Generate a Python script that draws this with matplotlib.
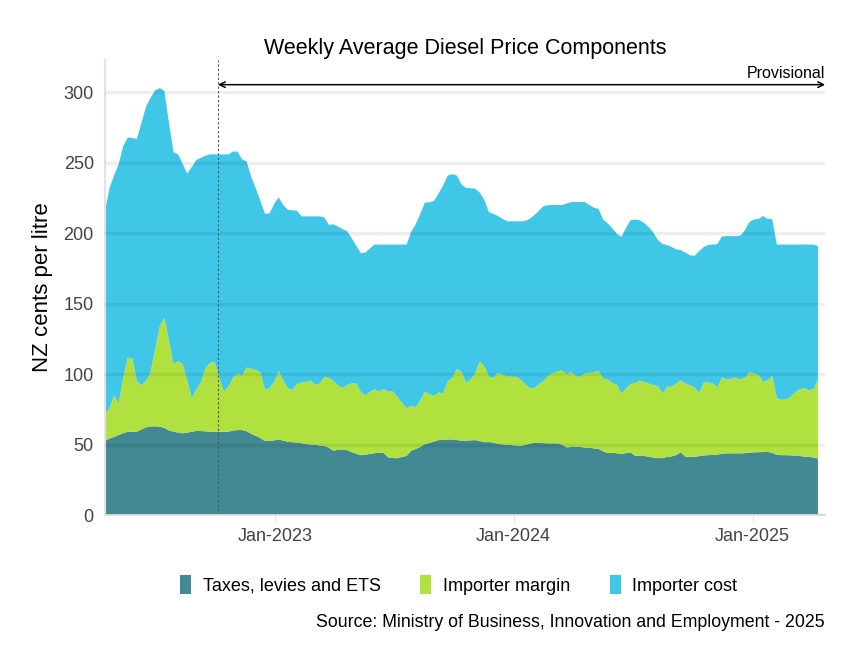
import matplotlib
matplotlib.use("Agg")
import matplotlib.pyplot as plt
import matplotlib.dates as mdates
import pandas as pd

plt.rcParams["font.family"] = ["Liberation Sans", "DejaVu Sans"]

# weekly data, Friday 15 Apr 2022 to Friday 11 Apr 2025 (NZ cents per litre)
start_date = "2022-04-15"
n_weeks = 157

taxes = [
    52.7, 54.3, 55.5, 56.8, 58.1, 59.1, 59.1, 59.2, 60.7, 62.3,
    62.8, 63.0, 62.7, 61.8, 60.0, 59.2, 58.5, 58.0, 58.5, 59.1,
    59.7, 59.6, 59.4, 59.1, 59.0, 59.1, 59.1, 59.1, 60.0, 60.3,
    60.3, 59.5, 57.6, 56.3, 54.6, 52.5, 52.6, 53.0, 53.5, 52.9,
    51.9, 51.7, 51.5, 51.0, 50.4, 50.1, 49.8, 49.4, 49.1, 47.8,
    45.6, 46.5, 46.6, 46.0, 44.7, 43.5, 42.5, 42.8, 43.4, 43.9,
    44.2, 43.9, 40.9, 40.5, 40.3, 41.3, 41.9, 45.7, 46.9, 48.3,
    50.4, 51.2, 52.2, 53.2, 53.4, 53.6, 53.7, 53.2, 52.8, 52.8,
    53.0, 53.2, 52.6, 51.7, 51.8, 51.4, 50.4, 50.2, 49.9, 49.6,
    49.4, 49.2, 49.9, 50.7, 51.3, 51.2, 51.0, 50.9, 50.9, 50.9,
    50.0, 48.0, 48.3, 48.6, 48.3, 47.9, 47.7, 47.3, 46.9, 45.2,
    43.9, 44.2, 43.8, 43.3, 44.0, 44.4, 42.1, 42.1, 42.0, 41.3,
    40.8, 40.4, 40.4, 41.3, 41.6, 42.6, 44.5, 41.3, 41.3, 41.3,
    41.8, 42.3, 42.5, 42.7, 42.9, 43.5, 43.8, 43.8, 43.8, 43.8,
    43.9, 44.3, 44.5, 44.6, 44.7, 44.8, 44.2, 42.7, 42.5, 42.5,
    42.4, 42.2, 41.9, 41.5, 41.3, 40.8, 40.2,
]

margin = [
    18.9, 21.7, 29.5, 22.2, 39.5, 52.6, 51.9, 35.8, 31.5, 33.0,
    38.9, 55.0, 71.3, 78.2, 64.0, 47.8, 50.7, 49.1, 37.2, 23.9,
    29.7, 34.4, 45.0, 48.9, 49.7, 38.9, 28.6, 31.9, 37.2, 40.1,
    38.5, 45.2, 46.2, 46.7, 46.7, 36.6, 37.4, 41.5, 48.7, 42.8,
    38.1, 37.1, 41.4, 42.9, 44.2, 45.2, 42.8, 43.9, 49.1, 49.5,
    49.7, 45.5, 43.7, 46.3, 48.7, 49.9, 44.8, 42.0, 44.1, 45.4,
    43.3, 45.5, 46.6, 47.2, 43.4, 38.4, 33.8, 32.0, 29.5, 33.2,
    37.1, 34.7, 32.3, 33.9, 32.9, 41.4, 43.7, 50.4, 48.9, 41.2,
    43.2, 47.4, 56.4, 54.0, 46.4, 45.8, 50.6, 49.3, 48.5, 48.5,
    48.7, 46.8, 42.9, 39.3, 38.9, 41.7, 44.2, 48.1, 49.9, 50.8,
    52.7, 51.8, 53.3, 50.1, 49.7, 52.6, 53.1, 54.1, 55.5, 51.7,
    52.3, 49.5, 48.7, 43.1, 45.8, 48.6, 51.4, 53.3, 52.6, 51.9,
    51.5, 51.1, 46.0, 49.7, 49.5, 50.8, 51.1, 52.1, 50.9, 49.2,
    44.9, 51.7, 51.6, 50.6, 47.9, 54.2, 52.4, 52.9, 53.7, 52.4,
    53.2, 57.0, 55.8, 54.8, 49.8, 50.7, 54.6, 40.3, 39.3, 39.5,
    41.6, 44.8, 47.4, 48.7, 47.1, 48.7, 55.5,
]

cost = [
    144.4, 156.0, 156.0, 170.0, 164.4, 156.3, 156.5, 172.0, 186.3, 194.7,
    194.6, 183.5, 169.0, 161.0, 154.5, 150.5, 146.8, 142.2, 146.6, 164.1,
    162.6, 159.6, 150.7, 148.0, 147.3, 158.0, 168.3, 165.0, 160.8, 157.6,
    153.7, 146.3, 136.2, 128.8, 121.7, 124.9, 124.0, 126.2, 123.3, 124.3,
    126.6, 127.5, 123.1, 118.1, 117.4, 116.7, 119.4, 118.7, 113.0, 108.7,
    111.0, 112.7, 112.7, 109.1, 103.1, 97.6, 98.7, 101.6, 101.8, 102.7,
    104.5, 102.6, 104.5, 104.3, 108.3, 112.3, 116.3, 123.3, 130.1, 132.3,
    134.3, 136.1, 138.5, 141.1, 147.7, 146.0, 144.6, 137.4, 132.9, 138.2,
    135.8, 131.1, 119.9, 118.0, 116.8, 116.5, 111.2, 110.7, 110.1, 110.4,
    110.4, 112.5, 115.9, 120.4, 122.8, 123.3, 124.1, 120.9, 119.2, 118.3,
    117.4, 121.3, 120.5, 123.5, 124.2, 121.7, 119.2, 116.8, 114.9, 112.8,
    110.8, 109.9, 107.1, 111.0, 113.9, 116.3, 116.2, 113.9, 112.6, 111.1,
    108.1, 103.7, 106.0, 100.6, 99.1, 95.1, 92.5, 92.9, 92.2, 93.5,
    100.6, 96.2, 97.6, 98.7, 101.5, 100.0, 101.8, 101.3, 100.5, 102.1,
    104.9, 106.7, 109.4, 110.8, 117.7, 114.7, 111.2, 109.0, 110.2, 110.0,
    108.0, 105.0, 102.7, 101.8, 103.6, 102.5, 95.3,
]

labels = ["Taxes, levies and ETS", "Importer margin", "Importer cost"]
colors = ["#428993", "#b0e13e", "#40c7e8"]

provisional_from = "2022-10-05"
x_end = "2025-04-22"
tick_dates = ["2023-01-01", "2024-01-01", "2025-01-01"]

dates = pd.date_range(start_date, periods=n_weeks, freq="7D")

fig = plt.figure(figsize=(8.64, 6.72), dpi=100)
ax = fig.add_axes([0.1215, 0.2336, 0.8335, 0.6771])

ax.stackplot(dates, taxes, margin, cost, colors=colors, labels=labels,
             linewidth=0)

ax.set_xlim(dates[0], pd.Timestamp(x_end))
ax.set_ylim(0, 323)
ax.set_yticks(range(0, 301, 50))
ax.set_xticks(pd.to_datetime(tick_dates))
ax.xaxis.set_major_formatter(mdates.DateFormatter("%b-%Y"))

ax.set_axisbelow(False)
ax.grid(axis="y", color="black", alpha=0.065, linewidth=2.5)
ax.grid(axis="x", visible=False)

for side in ["top", "right"]:
    ax.spines[side].set_visible(False)
for side in ["left", "bottom"]:
    ax.spines[side].set_color("#e3e3e3")
    ax.spines[side].set_linewidth(1.5)

ax.tick_params(axis="y", length=0, labelsize=13, labelcolor="#444444", pad=8)
ax.tick_params(axis="x", length=5, color="#e3e3e3", labelsize=13,
               labelcolor="#444444", pad=4)

ax.set_ylabel("NZ cents per litre", fontsize=16, labelpad=8)
ax.set_title("Weekly Average Diesel Price Components", fontsize=15.5, pad=4)

# provisional marker
prov = pd.Timestamp(provisional_from)
ax.axvline(prov, color="#555555", linewidth=0.8, linestyle=(0, (2, 2)))
ax.annotate("", xy=(pd.Timestamp(x_end), 305.5), xytext=(prov, 305.5),
            arrowprops=dict(arrowstyle="<->", color="black", lw=1.1,
                            shrinkA=0, shrinkB=0))
ax.text(pd.Timestamp(x_end), 308, "Provisional", ha="right", va="bottom",
        fontsize=11.5)

fig.legend(loc="center", bbox_to_anchor=(0.531, 0.1295), ncol=3,
           frameon=False, fontsize=13, handlelength=0.6, handleheight=1.25,
           columnspacing=2.2, handletextpad=0.65)

fig.text(0.955, 0.074, "Source: Ministry of Business, Innovation and Employment - 2025",
         ha="right", va="center", fontsize=12.8)

fig.savefig("out.png", dpi=100)
